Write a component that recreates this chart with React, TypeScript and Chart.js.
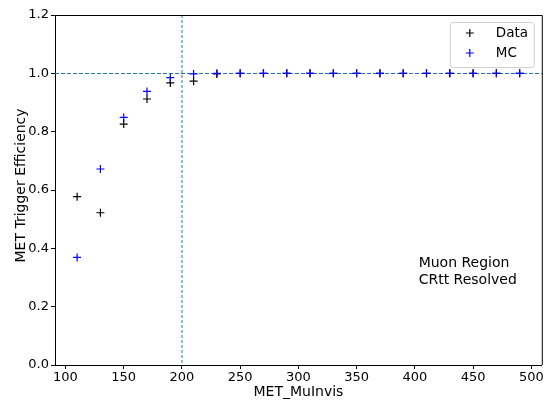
import React, { useEffect, useRef } from "react";
import { Chart, registerables } from "chart.js";

Chart.register(...registerables);

const xValues = [110, 130, 150, 170, 190, 210, 230, 250, 270, 290, 310, 330, 350, 370, 390, 410, 430, 450, 470, 490];
const dataEff = [0.577, 0.522, 0.826, 0.912, 0.967, 0.973, 0.998, 1, 1, 1, 1, 1, 1, 1, 1, 1, 1, 1, 1, 1];
const mcEff = [0.369, 0.672, 0.849, 0.938, 0.985, 0.998, 1, 1, 1, 1, 1, 1, 1, 1, 1, 1, 1, 1, 1, 1];
const xTicks = [100, 150, 200, 250, 300, 350, 400, 450, 500];
const yTicks = [0, 0.2, 0.4, 0.6, 0.8, 1.0, 1.2];
const thresholdX = 200;
const plateauY = 1.0;
const annotationLines = ["Muon Region", "CRtt Resolved"];
const yTitle = "MET Trigger Efficiency";
const xTitle = "MET_MuInvis";

const FONT = "'DejaVu Sans', sans-serif";

const drawCross = (ctx: CanvasRenderingContext2D, x: number, y: number, r: number, color: string) => {
  ctx.save();
  ctx.strokeStyle = color;
  ctx.lineWidth = 1.2;
  ctx.beginPath();
  ctx.moveTo(x - r, y);
  ctx.lineTo(x + r, y);
  ctx.moveTo(x, y - r);
  ctx.lineTo(x, y + r);
  ctx.stroke();
  ctx.restore();
};

const refPlugin = {
  id: "refs",
  beforeDatasetsDraw(chart: any) {
    const { ctx, chartArea, scales } = chart;
    const yp = scales.y.getPixelForValue(plateauY);
    const xp = scales.x.getPixelForValue(thresholdX);
    ctx.save();
    ctx.strokeStyle = "#1f77b4";
    ctx.lineWidth = 1;
    ctx.setLineDash([4, 2]);
    ctx.beginPath();
    ctx.moveTo(chartArea.left, Math.round(yp) + 0.5);
    ctx.lineTo(chartArea.right, Math.round(yp) + 0.5);
    ctx.stroke();
    ctx.strokeStyle = "#8dbbe0";
    ctx.lineWidth = 2;
    ctx.setLineDash([3, 2]);
    ctx.beginPath();
    ctx.moveTo(Math.round(xp), chartArea.top);
    ctx.lineTo(Math.round(xp), chartArea.bottom);
    ctx.stroke();
    ctx.restore();
  },
  afterDraw(chart: any) {
    const { ctx, chartArea } = chart;
    ctx.save();
    // frame top/right
    ctx.strokeStyle = "#000";
    ctx.lineWidth = 1;
    ctx.beginPath();
    ctx.moveTo(chartArea.left, chartArea.top + 0.5);
    ctx.lineTo(chartArea.right + 0.5, chartArea.top + 0.5);
    ctx.lineTo(chartArea.right + 0.5, chartArea.bottom);
    ctx.stroke();

    // y title
    ctx.save();
    ctx.fillStyle = "#000";
    ctx.font = `14px ${FONT}`;
    ctx.textAlign = "center";
    ctx.textBaseline = "middle";
    ctx.translate(21, chartArea.top + 0.487 * (chartArea.bottom - chartArea.top));
    ctx.rotate(-Math.PI / 2);
    ctx.fillText(yTitle, 0, 0);
    ctx.restore();

    // legend
    const bw = 84, bh = 45;
    const bx = chartArea.right - 8 - bw;
    const by = chartArea.top + 7;
    ctx.fillStyle = "rgba(255,255,255,0.8)";
    ctx.strokeStyle = "#d0d0d0";
    ctx.lineWidth = 1;
    ctx.beginPath();
    (ctx as any).roundRect(bx + 0.5, by + 0.5, bw, bh, 3);
    ctx.fill();
    ctx.stroke();
    ctx.font = `13.5px ${FONT}`;
    ctx.textBaseline = "middle";
    ctx.textAlign = "left";
    chart.data.datasets.forEach((ds: any, i: number) => {
      const ey = by + 11 + i * 20;
      drawCross(ctx, bx + 20, ey, 4, ds.borderColor);
      ctx.fillStyle = "#000";
      ctx.fillText(ds.label, bx + 46, ey);
    });

    // annotation
    ctx.fillStyle = "#000";
    ctx.textBaseline = "alphabetic";
    ctx.font = `14px ${FONT}`;
    const tx = chartArea.left + 0.747 * (chartArea.right - chartArea.left);
    const ty0 = chartArea.top + 0.72 * (chartArea.bottom - chartArea.top);
    annotationLines.forEach((t, i) => ctx.fillText(t, tx, ty0 + i * 17));
    ctx.restore();
  },
};

export default function App() {
  const ref = useRef<HTMLCanvasElement | null>(null);
  useEffect(() => {
    document.body.style.margin = "0";
    const canvas = ref.current!;
    const chart = new Chart(canvas, {
      type: "scatter",
      data: {
        datasets: [
          {
            label: "Data",
            data: xValues.map((x, i) => ({ x, y: dataEff[i] })),
            borderColor: "#000000",
            backgroundColor: "#000000",
            pointStyle: "cross",
            pointRadius: 4,
            pointBorderWidth: 1.2,
            order: 2,
          },
          {
            label: "MC",
            data: xValues.map((x, i) => ({ x, y: mcEff[i] })),
            borderColor: "#0000ff",
            backgroundColor: "#0000ff",
            pointStyle: "cross",
            pointRadius: 4,
            pointBorderWidth: 1.2,
            order: 1,
          },
        ],
      },
      plugins: [refPlugin],
      options: {
        animation: false,
        responsive: true,
        maintainAspectRatio: false,
        layout: { padding: { left: 8, right: 5, top: 15, bottom: 0 } },
        plugins: { legend: { display: false }, tooltip: { enabled: false } },
        scales: {
          x: {
            type: "linear",
            min: 91,
            max: 509,
            afterBuildTicks: (s: any) => {
              s.ticks = xTicks.map((v) => ({ value: v }));
            },
            afterFit: (s: any) => {
              s.height = 38;
            },
            grid: { drawOnChartArea: false, tickLength: 4, color: "#000", tickWidth: 1 },
            border: { color: "#000", width: 1 },
            ticks: { color: "#000", font: { family: FONT, size: 13 }, padding: 1, maxRotation: 0 },
            title: { display: true, text: xTitle, color: "#000", font: { family: FONT, size: 14 }, padding: { top: 0, bottom: 2 } },
          },
          y: {
            type: "linear",
            min: 0,
            max: 1.2,
            afterBuildTicks: (s: any) => {
              s.ticks = yTicks.map((v) => ({ value: v }));
            },
            afterFit: (s: any) => {
              s.width = 47;
            },
            grid: { drawOnChartArea: false, tickLength: 4, color: "#000", tickWidth: 1 },
            border: { color: "#000", width: 1 },
            ticks: {
              color: "#000",
              font: { family: FONT, size: 13 },
              padding: 2,
              callback: (v: any) => Number(v).toFixed(1),
            },
          },
        },
      },
    });
    return () => chart.destroy();
  }, []);
  return (
    <div style={{ position: "fixed", left: 0, top: 0, width: 547, height: 403 }}>
      <canvas ref={ref} />
    </div>
  );
}
